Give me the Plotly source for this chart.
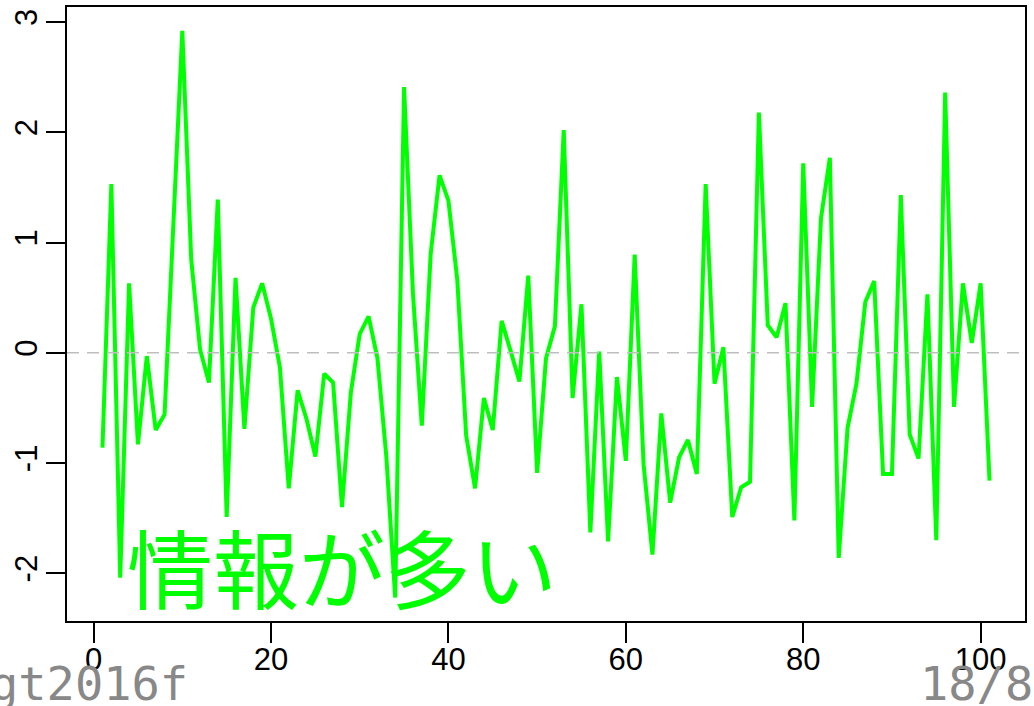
import plotly.graph_objects as go

# ---- data ----
x_index = list(range(1, 102))
y_values = [
    -0.86, 1.53, -2.04, 0.63, -0.83, -0.03, -0.70, -0.56, 1.18, 2.92,
    0.85, 0.03, -0.27, 1.39, -1.49, 0.68, -0.69, 0.41, 0.63, 0.31,
    -0.13, -1.23, -0.34, -0.60, -0.94, -0.19, -0.27, -1.40, -0.36, 0.17,
    0.33, -0.05, -0.94, -2.22, 2.41, 0.54, -0.66, 0.90, 1.61, 1.38,
    0.66, -0.75, -1.23, -0.41, -0.70, 0.29, 0.02, -0.26, 0.70, -1.09,
    -0.05, 0.24, 2.02, -0.41, 0.44, -1.63, 0.01, -1.71, -0.22, -0.98,
    0.89, -1.01, -1.83, -0.55, -1.36, -0.95, -0.79, -1.10, 1.53, -0.28,
    0.05, -1.49, -1.22, -1.17, 2.18, 0.25, 0.14, 0.45, -1.52, 1.72,
    -0.49, 1.22, 1.77, -1.86, -0.68, -0.28, 0.46, 0.65, -1.10, -1.10,
    1.43, -0.74, -0.96, 0.53, -1.70, 2.36, -0.49, 0.63, 0.09, 0.63,
    -1.16,
]
x_ticks = [0, 20, 40, 60, 80, 100]
x_tick_labels = ["0", "20", "40", "60", "80", "100"]
y_ticks = [-2, -1, 0, 1, 2, 3]
y_tick_labels = ["-2", "-1", "0", "1", "2", "3"]
label_text = "情報が多い"
footer_left = "gt2016f"
footer_right = "18/80"

fig = go.Figure()
fig.add_trace(go.Scatter(
    x=x_index, y=y_values, mode="lines",
    line=dict(color="#00FF00", width=4),
    hoverinfo="skip", showlegend=False,
))

fig.add_shape(type="line", xref="paper", yref="y", x0=0, x1=1, y0=0, y1=0,
              line=dict(color="#BEBEBE", width=1.5, dash="12px,8px"), layer="above")

fig.add_annotation(x=28, y=-1.925, xref="x", yref="y", text=label_text,
                   showarrow=False, xanchor="center", yanchor="middle",
                   font=dict(family="Noto Sans CJK JP", size=86, color="#00FF00"))

footer_font = dict(family="DejaVu Sans Mono", size=47, color="#888888")
fig.add_annotation(x=(190 - 67) / 958, y=-0.101, xref="paper", yref="paper",
                   text=footer_left, showarrow=False, xanchor="right", yanchor="middle",
                   font=footer_font)
fig.add_annotation(x=(918 - 67) / 958, y=-0.101, xref="paper", yref="paper",
                   text=footer_right, showarrow=False, xanchor="left", yanchor="middle",
                   font=footer_font)

axis_font = dict(family="Liberation Sans, Arial", size=31, color="black")
fig.update_xaxes(range=[-3, 105], tickmode="array", tickvals=x_ticks, ticktext=x_tick_labels,
                 ticks="outside", ticklen=20, tickwidth=2, tickcolor="black",
                 showline=True, linewidth=2, linecolor="black", mirror=True, automargin=False,
                 showgrid=False, zeroline=False, tickfont=axis_font, ticklabelstandoff=-10)
fig.update_yaxes(range=[-2.433, 3.137], tickmode="array", tickvals=y_ticks, ticktext=y_tick_labels,
                 ticks="outside", ticklen=19, tickwidth=2, tickcolor="black", tickangle=-90,
                 showline=True, linewidth=2, linecolor="black", mirror=True, automargin=False,
                 showgrid=False, zeroline=False, tickfont=axis_font, ticklabelstandoff=-3)

fig.update_layout(width=1034, height=706, margin=dict(l=67, r=9, t=7, b=85),
                  paper_bgcolor="white", plot_bgcolor="white")

fig.write_html("out.html", config={"displayModeBar": False},
               post_script="document.body.style.margin='0';document.body.style.overflow='hidden';")
